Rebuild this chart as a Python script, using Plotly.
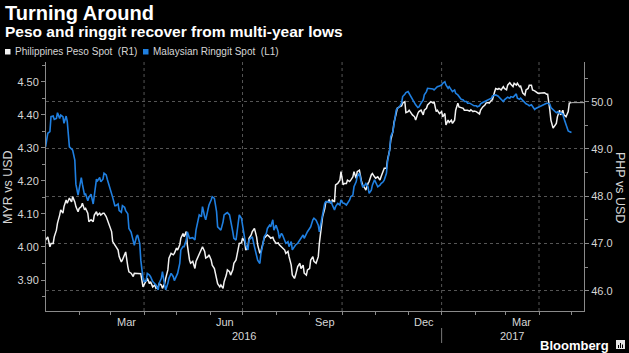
import datetime as dt
import plotly.graph_objects as go

# ---------------- data ----------------
START = dt.date(2016, 1, 1)
day_offsets = [
    0, 2, 4, 5, 7, 8, 10, 11, 13, 14,
    16, 17, 19, 20, 22, 24, 25, 27, 28, 30,
    31, 33, 34, 36, 37, 39, 40, 42, 44, 45,
    47, 48, 50, 51, 53, 54, 56, 57, 59, 61,
    62, 64, 65, 67, 68, 70, 71, 73, 74, 76,
    77, 79, 81, 82, 84, 85, 87, 88, 90, 91,
    93, 94, 96, 97, 99, 101, 102, 104, 105, 107,
    108, 110, 111, 113, 114, 116, 118, 119, 121, 122,
    124, 125, 127, 128, 130, 131, 133, 134, 136, 138,
    139, 141, 142, 144, 145, 147, 148, 150, 151, 153,
    154, 156, 158, 159, 161, 162, 164, 165, 167, 168,
    170, 171, 173, 174, 176, 178, 179, 181, 182, 184,
    185, 187, 188, 190, 191, 193, 195, 196, 198, 199,
    201, 202, 204, 205, 207, 208, 210, 211, 213, 215,
    216, 218, 219, 221, 222, 224, 225, 227, 228, 230,
    231, 233, 235, 236, 238, 239, 241, 242, 244, 245,
    247, 248, 250, 252, 253, 255, 256, 258, 259, 261,
    262, 264, 265, 267, 268, 270, 272, 273, 275, 276,
    278, 279, 281, 282, 284, 285, 287, 288, 290, 292,
    293, 295, 296, 298, 299, 301, 302, 304, 305, 307,
    309, 310, 312, 313, 315, 316, 318, 319, 321, 322,
    324, 325, 327, 329, 330, 332, 333, 335, 336, 338,
    339, 341, 342, 344, 345, 347, 349, 350, 352, 353,
    355, 356, 358, 359, 361, 362, 364, 366, 367, 369,
    370, 372, 373, 375, 376, 378, 379, 381, 382, 384,
    386, 387, 389, 390, 392, 393, 395, 396, 398, 399,
    401, 402, 404, 406, 407, 409, 410, 412, 413, 415,
    416, 418, 419, 421, 423, 424, 426, 427, 429, 430,
    432, 433, 435, 436, 438, 439, 441, 443, 444, 446,
    447, 449, 450, 452, 453, 455, 456, 458, 459, 461,
    463, 464, 466, 467, 469, 470, 472, 473, 475, 476,
    478, 479, 481, 483, 484, 486,
]

# Philippines Peso spot (PHP per USD, right axis)
php_spot = [
    47.07, 47.14, 46.93, 47.00, 47.00, 47.14, 47.28, 47.43, 47.60, 47.71,
    47.64, 47.78, 47.92, 47.85, 47.96, 47.88, 47.99, 47.88, 47.78, 47.67,
    47.74, 47.78, 47.85, 47.71, 47.74, 47.64, 47.46, 47.50, 47.46, 47.60,
    47.67, 47.60, 47.64, 47.60, 47.64, 47.64, 47.57, 47.50, 47.39, 47.25,
    47.04, 46.97, 46.93, 46.86, 46.72, 46.61, 46.65, 46.79, 46.82, 46.51,
    46.40, 46.37, 46.30, 46.37,
    46.37, 46.37, 46.37, 46.36, 46.08, 46.12, 46.19, 46.26, 46.15, 46.19,
    46.08, 46.12, 46.05, 46.08, 46.15, 46.12, 46.05, 46.15, 46.26, 46.44,
    46.69, 46.79, 46.76, 46.79, 46.90, 46.86, 46.97, 47.11, 47.21, 47.14,
    47.25, 46.97, 46.65, 46.58, 46.62, 46.47, 46.62, 46.72, 46.76, 46.86,
    46.93, 46.83, 46.69, 46.72, 46.76, 46.65, 46.54, 46.47, 46.26, 46.15,
    46.08, 46.12, 46.05, 46.19,
    46.33, 46.44, 46.40, 46.33, 46.44, 46.58, 46.65, 46.90, 47.00, 47.01,
    47.11, 47.04, 46.86, 46.93, 47.11, 47.18, 47.25, 47.32, 47.14, 46.97,
    46.79, 46.83, 47.04, 47.11, 47.16, 47.18, 47.14, 47.11, 47.13, 47.07,
    47.00, 47.01, 46.97, 46.93, 46.90, 46.86, 46.79, 46.83, 46.72, 46.54,
    46.33, 46.26, 46.33, 46.51, 46.58, 46.47, 46.54, 46.37, 46.33, 46.44,
    46.47, 46.65, 46.72, 46.62,
    46.58, 46.72, 47.00, 47.35, 47.57, 47.74, 47.88, 47.88, 47.92, 47.85,
    47.92, 47.88, 48.24, 48.27, 48.34, 48.52, 48.24, 48.27, 48.27, 48.34,
    48.31, 48.34, 48.41, 48.52, 48.38, 48.52, 48.55, 48.31, 48.24, 48.17,
    48.13, 48.27, 48.31, 48.45, 48.48, 48.41, 48.38, 48.41, 48.34, 48.41,
    48.52, 48.59, 48.59, 48.77, 48.98, 49.19, 49.37, 49.56, 49.75, 49.86,
    49.89, 49.91, 49.97, 50.00,
    49.77, 49.79, 49.82, 49.75, 49.72, 49.68, 49.61, 49.75, 49.79, 49.82,
    49.72, 49.82, 49.86, 49.93, 49.97, 50.00, 49.97, 50.00, 49.79, 49.82,
    49.75, 49.79, 49.68, 49.75, 49.51, 49.61, 49.56, 49.61, 49.54, 49.61,
    49.82, 49.97, 49.89, 49.88, 49.86, 49.82, 49.83, 49.82, 49.80, 49.83,
    49.79, 49.80, 49.79, 49.77, 49.74, 49.82, 49.89, 49.93, 49.97, 49.98,
    49.97, 50.03, 50.04, 50.21,
    50.28, 50.26, 50.28, 50.25, 50.32, 50.28, 50.25, 50.35, 50.40, 50.37,
    50.32, 50.39, 50.35, 50.39, 50.32, 50.33, 50.18, 50.14, 50.25, 50.28,
    50.35, 50.35, 50.25, 50.23, 50.21, 50.18, 50.18, 50.19, 50.18, 50.19,
    50.16, 50.16, 49.82, 49.61, 49.44, 49.47, 49.54, 49.68, 49.82, 49.72,
    49.82, 49.72, 49.68, 49.79, 49.97, 49.98,
]

# Malaysian Ringgit spot (MYR per USD, left axis)
myr_spot = [
    4.303, 4.344, 4.349, 4.394, 4.396, 4.386, 4.389, 4.406, 4.389, 4.399,
    4.394, 4.374, 4.396, 4.380, 4.303, 4.298, 4.293, 4.263, 4.190, 4.157,
    4.180, 4.210, 4.190, 4.157, 4.160, 4.140, 4.150, 4.160, 4.130, 4.160,
    4.205, 4.200, 4.210, 4.197, 4.205, 4.223, 4.218, 4.205, 4.185, 4.165,
    4.150, 4.125, 4.125, 4.130, 4.110, 4.105, 4.125, 4.120, 4.110, 4.100,
    4.056, 4.045, 4.020, 4.005,
    4.031, 4.036, 4.011, 3.960, 3.905, 3.895, 3.898, 3.920, 3.915, 3.910,
    3.895, 3.890, 3.885, 3.870, 3.890, 3.905, 3.925, 3.885, 3.870, 3.890,
    3.905, 3.920, 3.910, 3.898, 3.910, 3.920, 3.950, 3.991, 4.001, 4.001,
    4.021, 4.046, 4.026, 4.026, 4.028, 4.021, 4.051, 4.082, 4.097, 4.092,
    4.122, 4.092, 4.082, 4.112, 4.127, 4.142, 4.152, 4.147, 4.107, 4.061,
    4.056, 4.051, 4.076, 4.097,
    4.102, 4.104, 4.097, 4.082, 4.046, 4.026, 4.021, 4.072, 4.097, 4.087,
    4.061, 4.026, 4.006, 3.991, 4.021, 4.028, 4.031, 4.001, 3.970, 3.960,
    3.950, 3.980, 4.011, 4.031, 4.041, 4.056, 4.066, 4.061, 4.082, 4.051,
    4.066, 4.046, 4.026, 4.041, 4.036, 4.021, 4.011, 4.016, 4.001, 4.016,
    3.991, 4.001, 4.006, 4.011, 4.021, 4.026, 4.036, 4.026, 4.041, 4.046,
    4.056, 4.061, 4.082, 4.087,
    4.081, 4.066, 4.046, 4.081, 4.102, 4.132, 4.137, 4.137, 4.134, 4.137,
    4.127, 4.112, 4.122, 4.132, 4.127, 4.142, 4.132, 4.132, 4.127, 4.132,
    4.142, 4.152, 4.157, 4.182, 4.197, 4.213, 4.223, 4.192, 4.182, 4.187,
    4.192, 4.182, 4.162, 4.172, 4.187, 4.203, 4.197, 4.182, 4.187, 4.192,
    4.197, 4.203, 4.223, 4.258, 4.293, 4.334, 4.349, 4.374, 4.414, 4.419,
    4.424, 4.435, 4.455, 4.462,
    4.467, 4.470, 4.464, 4.455, 4.445, 4.435, 4.430, 4.422, 4.424, 4.435,
    4.445, 4.460, 4.470, 4.480, 4.480, 4.480, 4.478, 4.475, 4.480, 4.485,
    4.487, 4.490, 4.495, 4.500, 4.490, 4.480, 4.485, 4.475, 4.470, 4.475,
    4.465, 4.460, 4.455, 4.447, 4.445, 4.440, 4.440, 4.435, 4.435, 4.433,
    4.430, 4.427, 4.427, 4.424, 4.427, 4.433, 4.437, 4.440, 4.444, 4.445,
    4.447, 4.450, 4.457, 4.460,
    4.460, 4.457, 4.453, 4.445, 4.440, 4.445, 4.450, 4.453, 4.450, 4.455,
    4.453, 4.457, 4.463, 4.450, 4.447, 4.450, 4.443, 4.435, 4.433, 4.430,
    4.427, 4.430, 4.424, 4.416, 4.419, 4.422, 4.424, 4.427, 4.430, 4.433,
    4.435, 4.435, 4.432, 4.422, 4.416, 4.412, 4.406, 4.409, 4.404, 4.406,
    4.402, 4.389, 4.369, 4.351, 4.349, 4.346,
]

series_names = ["Philippines Peso Spot  (R1)", "Malaysian Ringgit Spot  (L1)"]
month_labels = ["Mar", "Jun", "Sep", "Dec", "Mar"]
month_label_dates = ["2016-03-16", "2016-06-15", "2016-09-15", "2016-12-16", "2017-03-16"]
year_labels = ["2016", "2017"]
year_label_dates = ["2016-07-02 12:00", "2017-03-07"]
year_break_date = "2017-01-01"
month_tick_dates = ["2016-02-01", "2016-03-01", "2016-04-01", "2016-05-01", "2016-06-01",
                    "2016-07-01", "2016-08-01", "2016-09-01", "2016-10-01", "2016-11-01",
                    "2016-12-01", "2017-01-01", "2017-02-01", "2017-03-01", "2017-04-01",
                    "2017-05-01"]
grid_dates = ["2016-04-01", "2016-07-01", "2016-10-01", "2017-01-01", "2017-04-01"]
myr_ticks = [3.90, 4.00, 4.10, 4.20, 4.30, 4.40, 4.50]
myr_minor = [3.85, 3.95, 4.05, 4.15, 4.25, 4.35, 4.45, 4.55]
php_ticks = [46.0, 47.0, 48.0, 49.0, 50.0]
php_minor = [46.5, 47.5, 48.5, 49.5, 50.5]
x_range = ["2016-01-01 09:00", "2017-05-12 14:00"]
myr_range = [3.8062, 4.5596]
php_range = [45.570, 50.840]

dates = [START + dt.timedelta(days=d) for d in day_offsets]
assert len(dates) == len(php_spot) == len(myr_spot), (len(dates), len(php_spot), len(myr_spot))

# ---------------- style ----------------
W, H = 629, 353
ML, MR, MT, MB = 46, 45, 62, 42
PW, PH = W - ML - MR, H - MT - MB
FONT = "Liberation Sans"
TXT = "#d6d6d6"
BLUE = "#1f7fe0"
WHITE = "#f2f2f2"
AXIS = "#8a8a8a"
GRID = "#555555"


def px(x, y):
    """pixel position -> paper coordinates"""
    return (x - ML) / PW, (H - MB - y) / PH


fig = go.Figure()
fig.add_trace(go.Scatter(x=dates, y=php_spot, name=series_names[0], mode="lines",
                         line=dict(color=WHITE, width=1.5), yaxis="y"))
# last-value connector to the right axis
fig.add_trace(go.Scatter(x=[dates[-1], x_range[1]], y=[php_spot[-1], php_spot[-1]],
                         mode="lines", line=dict(color="#b5b5b5", width=1), yaxis="y",
                         showlegend=False))
fig.add_trace(go.Scatter(x=dates, y=myr_spot, name=series_names[1], mode="lines",
                         line=dict(color=BLUE, width=1.6), yaxis="y2"))

tickfont = dict(family=FONT, size=11, color=TXT)
fig.update_layout(
    width=W, height=H,
    margin=dict(l=ML, r=MR, t=MT, b=MB, pad=0),
    paper_bgcolor="#000000", plot_bgcolor="#000000",
    showlegend=False,
    xaxis=dict(type="date", range=x_range, tickmode="array", tickvals=month_tick_dates,
               ticktext=[""] * len(month_tick_dates), ticks="outside", ticklen=3,
               tickcolor=AXIS, showgrid=False, zeroline=False, showline=True,
               linecolor=AXIS, linewidth=1),
    yaxis=dict(side="right", range=php_range, tickmode="array", tickvals=php_ticks,
               ticktext=[f"{v:.1f}" for v in php_ticks], ticks="outside", ticklen=4,
               tickcolor=AXIS, tickfont=tickfont, showgrid=True, gridcolor=GRID,
               griddash="dot", gridwidth=1, zeroline=False, showline=True,
               linecolor=AXIS, linewidth=1,
               minor=dict(tickmode="array", tickvals=php_minor, ticks="outside",
                          ticklen=3, tickcolor=AXIS, showgrid=False)),
    yaxis2=dict(side="left", overlaying="y", range=myr_range, tickmode="array",
                tickvals=myr_ticks, ticktext=[f"{v:.2f}" for v in myr_ticks],
                ticks="outside", ticklen=4, tickcolor=AXIS, tickfont=tickfont,
                showgrid=False, zeroline=False, showline=True, linecolor=AXIS,
                linewidth=1,
                minor=dict(tickmode="array", tickvals=myr_minor, ticks="outside",
                           ticklen=3, tickcolor=AXIS, showgrid=False)),
)

shapes = []
for d in grid_dates:
    shapes.append(dict(type="line", xref="x", yref="paper", x0=d, x1=d, y0=0, y1=1,
                       line=dict(color=GRID, width=1, dash="dot"), layer="below"))
# year separator
_, ys0 = px(0, 328)
_, ys1 = px(0, 343)
shapes.append(dict(type="line", xref="x", yref="paper", x0=year_break_date, x1=year_break_date,
                   y0=ys0, y1=ys1, line=dict(color="#777777", width=1)))
# legend squares
for x0, col in [(5, WHITE), (143, BLUE)]:
    a0, b0 = px(x0, 49)
    a1, b1 = px(x0 + 5.5, 54.5)
    shapes.append(dict(type="rect", xref="paper", yref="paper", x0=a0, x1=a1, y0=b1, y1=b0,
                       fillcolor=col, line=dict(width=0)))
# Bloomberg icon
a0, b0 = px(616, 340)
a1, b1 = px(625, 349)
shapes.append(dict(type="rect", xref="paper", yref="paper", x0=a0, x1=a1, y0=b1, y1=b0,
                   fillcolor="#e6e6e6", line=dict(width=0)))
for bx, top in [(618.5, 345), (620.5, 343), (622.5, 344.5)]:
    a, b = px(bx, top)
    _, c = px(bx, 348)
    shapes.append(dict(type="line", xref="paper", yref="paper", x0=a, x1=a, y0=c, y1=b,
                       line=dict(color="#000000", width=1)))
fig.update_layout(shapes=shapes)

ann = []


def text(x, y, s, size, color=TXT, bold=False, xanchor="left", angle=0, family=FONT):
    ax, ay = px(x, y)
    ann.append(dict(xref="paper", yref="paper", x=ax, y=ay, text=f"<b>{s}</b>" if bold else s,
                    showarrow=False, xanchor=xanchor, yanchor="middle", textangle=angle,
                    font=dict(family=family, size=size, color=color)))


text(3, 13, "Turning Around", 20, "#ffffff", bold=True)
text(3, 31.5, "Peso and ringgit recover from multi-year lows", 15.5, "#ffffff", bold=True)
text(12.5, 52, series_names[0], 10, TXT)
text(150.5, 52, series_names[1], 10, TXT)
text(8, 187, "MYR vs USD", 12.5, TXT, angle=-90, xanchor="center")
text(620, 187, "PHP vs USD", 12.5, TXT, angle=90, xanchor="center")
text(611, 345.5, "Bloomberg", 13, "#ffffff", bold=True, xanchor="right")

_, ym = px(0, 321.5)
for lab, d in zip(month_labels, month_label_dates):
    ann.append(dict(xref="x", yref="paper", x=d, y=ym, text=lab, showarrow=False,
                    xanchor="center", yanchor="middle", font=dict(family=FONT, size=11, color=TXT)))
_, yy = px(0, 336)
for lab, d in zip(year_labels, year_label_dates):
    ann.append(dict(xref="x", yref="paper", x=d, y=yy, text=lab, showarrow=False,
                    xanchor="center", yanchor="middle", font=dict(family=FONT, size=11, color=TXT)))
fig.update_layout(annotations=ann)

fig.write_html("out.html")
